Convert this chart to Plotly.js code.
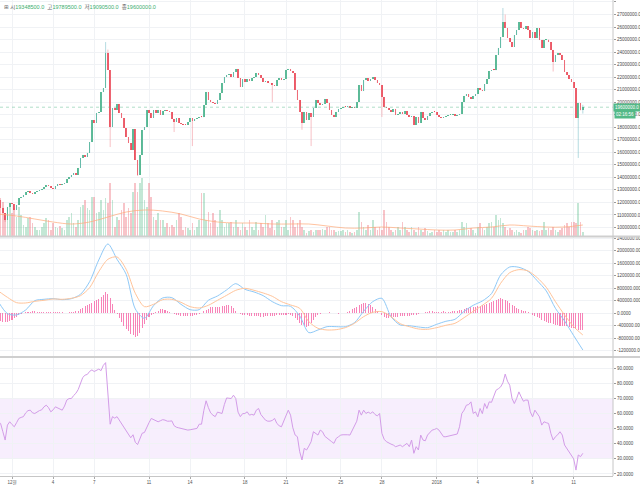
<!DOCTYPE html>
<html><head><meta charset="utf-8">
<script src="https://cdn.plot.ly/plotly-3.0.1.min.js"></script>
<style>html,body{margin:0;padding:0;background:#fff;}#chart{width:640px;height:485px;}</style>
</head><body><div id="chart"></div>
<script>
// BTC/KRW, 4-hour candles starting 2017-11-30 00:00. Prices in 만원 (10,000 KRW).
const startTime = Date.UTC(2017, 10, 30, 0);
const candleHours = 4;
const firstOpen = 1250;
const close = [
1219,1156,1116,1060,1164,1196,1188,1140,1180,1235,
1243,1259,1283,1291,1275,1267,1283,1291,1299,1307,
1323,1339,1331,1315,1307,1331,1347,1339,1347,1355,
1387,1403,1419,1435,1419,1475,1555,1579,1563,1595,
1682,1858,1834,1914,1922,2081,2113,2393,2257,1802,
1954,1938,1986,1914,1874,1794,1722,1674,1619,1786,
1539,1419,1579,1778,1802,1938,1914,1874,1938,1914,
1938,1898,1930,1938,1930,1922,1866,1842,1874,1834,
1826,1822,1818,1842,1874,1850,1866,1874,1882,1880,
1978,2081,2018,2002,1994,1986,2018,2073,2153,2201,
2217,2225,2201,2241,2265,2193,2121,2185,2161,2185,
2169,2193,2201,2233,2217,2193,2161,2169,2153,2150,
2137,2129,2177,2193,2177,2185,2257,2265,2249,2233,
2097,2018,1922,1834,1922,1858,1914,1882,1954,2018,
1994,1978,1986,2026,1994,1938,1898,1882,1922,1946,
1954,1962,1960,1970,1954,1962,1954,2002,2137,2089,
2177,2193,2169,2185,2201,2177,2153,2137,2042,1962,
1954,1938,1922,1946,1898,1906,1922,1906,1930,1898,
1882,1890,1818,1882,1834,1922,1874,1858,1890,1914,
1922,1920,1898,1882,1874,1882,1890,1898,1900,1906,
1890,1898,1906,2002,2050,2065,2042,2026,2050,2065,
2113,2097,2089,2145,2185,2249,2257,2255,2377,2433,
2520,2640,2592,2512,2480,2441,2536,2576,2640,2592,
2584,2608,2576,2512,2560,2512,2592,2496,2433,2496,
2500,2480,2417,2321,2377,2393,2377,2337,2241,2217,
2185,2161,2113,1874,1994,1934.85,1960];
// notable wick extremes (candle index -> price, 만원)
const highWick = {47:2480, 48:2420, 221:2752, 222:2700, 237:2530, 256:1978.95};
const lowWick = {3:1045, 49:1642, 61:1411, 77:1762, 85:1650, 120:2000, 133:1780, 137:1650, 168:1882, 243:2245, 254:1555, 256:1909.05};
// volume (arbitrary units)
const volume = [
40,38,34,23,29,33,23,28,19,29,21,
11,9,18,19,13,9,6,6,9,13,
18,16,6,13,9,8,10,8,6,16,
19,23,13,9,16,29,31,36,28,26,
39,39,23,24,36,26,38,33,53,36,
9,19,16,26,33,19,28,23,44,53,
44,53,58,36,29,53,39,19,16,23,
16,16,9,13,9,11,9,16,23,19,
6,9,8,6,13,6,9,16,43,43,
16,24,13,23,16,9,26,16,9,13,
13,14,9,16,9,6,13,9,6,16,
9,6,14,6,13,9,21,13,8,16,
6,14,16,9,9,16,6,19,16,9,
13,16,9,6,3,5,6,4,6,6,
6,7,6,9,9,6,6,4,5,5,
6,4,6,4,3,4,6,24,
14,9,6,11,6,16,9,6,9,6,26,14,9,6,
4,6,9,6,14,9,6,4,9,6,4,9,6,4,8,5,
3,4,6,4,6,4,6,4,6,4,4,6,4,6,14,
9,13,6,8,6,3,9,13,8,6,9,13,14,9,21,
16,18,13,9,6,8,6,4,6,4,3,6,6,9,8,
6,5,6,5,6,
14,6,8,6,9,6,4,6,8,11,13,9,14,14,13,33,14,4];
// volume moving average, read every 8 candles
const volumeMA = [22,20,17,14,12,14,19,24,26,25,22,17,14,13,13,12,12,12,10,8,8,9,8,7,6,6,8,9,11,10,9,9,11];
// MACD and signal (thousand KRW), read every 4 candles
const macdLine = [373,-11,-53,107,405,448,469,437,469,608,1013,1707,2219,1728,1248,139,-160,245,491,501,288,117,117,416,555,747,949,768,683,565,373,245,224,-85,-619,-533,-427,-427,-427,-299,64,373,480,-107,-373,-395,-437,-459,-352,-256,-192,64,256,395,629,1227,1483,1472,1344,1045,715,160,-245,-715,-1173];
const signalLine = [715,512,341,331,384,416,459,448,480,565,821,1333,1728,1803,1408,640,213,288,437,448,352,213,171,256,416,576,736,800,736,651,544,373,267,160,-267,-480,-533,-523,-459,-320,-107,32,53,-107,-331,-427,-501,-512,-459,-384,-320,-139,64,256,480,960,1301,1397,1355,1141,832,373,-53,-427,-693];
// MACD histogram per candle (thousand KRW)
const macdHist = [
-200,-260,-290,-290,-270,-240,-200,-160,-110,-60,
-20,10,
40,50,55,60,60,55,50,50,45,45,40,40,35,35,30,30,30,25,25,30,40,50,60,
90,130,170,220,260,300,340,
380,420,470,520,600,670,620,500,
300,120,-30,
-150,-280,-400,-500,-580,-650,-700,-750,-730,
-620,-480,-340,-220,-130,-60,-10,
40,90,130,140,120,90,50,
10,-20,-40,-60,-70,-80,-90,-90,-80,-70,-60,-40,-20,
20,60,100,150,190,210,200,190,200,220,240,260,250,220,160,80,
20,-20,-40,-50,
-60,-70,-80,-90,-100,-100,-110,-110,-100,-100,-90,-80,-70,-60,-60,-50,-40,
-40,-20,-40,-80,-150,-220,-300,
-380,-420,-430,-400,-320,-220,-130,-60,
-20,0,10,20,30,20,10,0,-10,0,10,20,
50,90,130,170,210,250,290,320,320,300,260,200,140,70,
0,-60,-110,-150,-160,-150,-130,-120,-110,-100,-100,-90,-80,-70,
-60,-50,-40,-20,0,20,40,50,60,60,
50,40,40,50,60,50,40,50,60,70,80,
100,120,140,160,180,190,200,210,220,230,250,270,300,330,360,400,440,470,480,470,440,
400,340,280,230,180,130,100,80,60,30,0,
-40,-80,-120,-160,-200,-240,-270,-300,-320,-340,-360,-380,-390,-400,-410,-420,-440,-460,-480,-500,-520,-530,-540];
// RSI per candle
const rsi = [
54.6,53.5,48,42.5,52.4,54.6,52.8,51.3,54,56.8,
57.5,58,60.5,62,62.3,60.5,60.1,61.3,62,62.5,
64.5,65.6,64,61.2,62.5,64.5,63.8,63.4,62.3,65,
69,70,70,72,73.5,76,80,84,85.5,86,
88,89,87.9,89,89.5,88.5,92,93.8,70,53,
58,57,58,55.7,53,51,48,46,44,46,
41,39.5,43.6,47,47.5,51.3,54,56.8,56,55.5,
54.6,55.3,56,55.7,55,55,55.2,52,51,50.6,
50.2,50,49.3,49.1,49.3,49.5,50,50.2,53,53,
62,68.5,64,60.5,59,58,61,60.5,60.1,66,
70.4,70.2,70,72.2,70,61,58,60,60.1,61.2,
59,59.5,59,62.3,63.4,59.4,57.5,55.7,55,55,
55.5,56.8,53.5,52,51.3,54.6,57.9,62.3,59,50.6,
45.8,44.7,34.8,29.3,37,35.9,38.5,41.4,48,47,
45.8,49.1,48,45,43.6,42.5,41.4,40.3,43.6,44.7,
45.8,46,46.2,46,45.8,49.1,52.4,55,62.3,59,
62.3,60.1,61,60.1,61.2,59.4,58.5,60.1,46.9,43,
41.4,40.3,39.8,39.2,38.1,38.6,39.2,38.1,39.2,40.3,
38.1,42.5,33.7,38.1,35.9,45.8,42.5,42,45.8,47.5,
49.1,49.5,50.2,49.1,47,44.7,44.7,45,45.8,46,
46.2,46.5,51.3,60.1,62.3,65.6,66,67.8,60.1,61.2,
57.9,63.4,60,66.7,63.4,67.8,67.5,71.1,75.5,76.5,
77.7,80.4,86.2,81.5,78.8,70,66.7,70,74.4,71.1,
68.2,69,68.9,61.2,57.9,62.3,60,57.9,52.4,54.6,
54,53.5,46.9,42.5,44.7,46,48,45.8,39.2,37,
35,32.6,30,22.6,32.6,31.5,33.7];
const tickDates = [[2017,11,1],[2017,11,4],[2017,11,7],[2017,11,11],[2017,11,14],[2017,11,18],[2017,11,21],[2017,11,25],[2017,11,28],[2018,0,1],[2018,0,4],[2018,0,8],[2018,0,11]];
const tickLabels = ['12월','4','7','11','14','18','21','25','28','2018','4','8','11'];
const priceTicks = [10,11,12,13,14,15,16,17,18,19,20,21,22,23,24,25,26,27,28];
const macdTicks = [-1200,-800,-400,0,400,800,1200,1600,2000,2400];
const macdTickText = ['-1200000.00','-800000.000','-400000.000','0.0000','400000.0000','800000.0000','1200000.000','1600000.000','2000000.000','2400000.000'];
const rsiTicks = [20,30,40,50,60,70,80,90];
const header = {open:19348500, high:19789500, low:19090500, close:19600000};

// ---- build ----
const HOUR = 3600*1000, DAY = 24*HOUR;
const t = i => startTime + i*candleHours*HOUR;
const WON = 1e4;
const n = close.length;
const open = close.map((c,i)=> i===0 ? firstOpen : close[i-1]);
const UP = '#53b987', DOWN = '#eb4d5c';
const xs = close.map((c,i)=>t(i));
const isUp = close.map((c,i)=> c >= open[i]);

const wickUp = {x:[],y:[]}, wickDn = {x:[],y:[]};
for (let i=0;i<n;i++){
  const hi = (highWick[i]!==undefined ? highWick[i] : Math.max(open[i],close[i]));
  const lo = (lowWick[i]!==undefined ? lowWick[i] : Math.min(open[i],close[i]));
  const w = isUp[i] ? wickUp : wickDn;
  w.x.push(xs[i], xs[i], null); w.y.push(lo*WON, hi*WON, null);
}
const bodyBase = close.map((c,i)=>Math.min(c,open[i])*WON);
const bodyLen = close.map((c,i)=>Math.max(Math.abs(c-open[i]),6)*WON);

const dec1 = Date.UTC(2017,11,1);
const xr = [dec1 - 0.8759*DAY, dec1 + 43.869*DAY];
const H = 476;
const fontTick = {family:'Liberation Sans, Arial, sans-serif', size:4.5, color:'#4a4a4a'};
const grid = '#f0f2f5';

const traces = [
  {type:'bar', x:xs, y:volume, yaxis:'y2', width:candleHours*HOUR*0.72,
   marker:{color:isUp.map(u=>u?'rgba(83,185,135,0.35)':'rgba(235,77,92,0.33)'), line:{width:0}}, hoverinfo:'skip'},
  {type:'scatter', mode:'lines', x:volumeMA.map((v,k)=>t(k*8)), y:volumeMA, yaxis:'y2',
   line:{color:'rgba(255,170,120,0.7)', width:1, shape:'spline'}, hoverinfo:'skip'},
  {type:'scatter', mode:'lines', x:wickUp.x, y:wickUp.y, line:{color:'rgba(120,190,200,0.55)', width:1}, connectgaps:false, hoverinfo:'skip'},
  {type:'scatter', mode:'lines', x:wickDn.x, y:wickDn.y, line:{color:'rgba(240,140,150,0.55)', width:1}, connectgaps:false, hoverinfo:'skip'},
  {type:'bar', x:xs, y:bodyLen, base:bodyBase, width:candleHours*HOUR*0.72,
   marker:{color:isUp.map(u=>u?UP:DOWN), line:{width:0}}, hoverinfo:'skip'},
  {type:'bar', x:xs, y:macdHist.map(v=>v*1000), yaxis:'y3', width:candleHours*HOUR*0.45,
   marker:{color:'rgba(245,90,160,0.75)', line:{width:0}}, hoverinfo:'skip'},
  {type:'scatter', mode:'lines', x:macdLine.map((v,k)=>t(k*4)), y:macdLine.map(v=>v*1000), yaxis:'y3',
   line:{color:'#8fc9f7', width:1, shape:'spline', smoothing:0.8}, hoverinfo:'skip'},
  {type:'scatter', mode:'lines', x:signalLine.map((v,k)=>t(k*4)), y:signalLine.map(v=>v*1000), yaxis:'y3',
   line:{color:'#ffc49a', width:1, shape:'spline', smoothing:0.8}, hoverinfo:'skip'},
  {type:'scatter', mode:'lines', x:xs, y:rsi, yaxis:'y4',
   line:{color:'#d39ce8', width:1}, hoverinfo:'skip'}
];

const yBase = {side:'right', anchor:'x', showgrid:true, gridcolor:grid, gridwidth:1, zeroline:false,
  ticks:'outside', ticklen:2, tickcolor:'#9a9a9a', tickfont:fontTick, showline:false, fixedrange:true};

const layout = {
  width:640, height:485,
  margin:{l:0, r:27, t:0, b:9, pad:0},
  paper_bgcolor:'#ffffff', plot_bgcolor:'#ffffff',
  showlegend:false, barmode:'overlay', bargap:0,
  font:{family:'Liberation Sans, Arial, sans-serif', size:5, color:'#4a4a4a'},
  xaxis:{type:'date', range:xr, anchor:'y4', tickmode:'array',
    tickvals:tickDates.map(d=>Date.UTC(d[0],d[1],d[2])), ticktext:tickLabels,
    tickfont:{family:'Liberation Sans, Noto Sans CJK KR, sans-serif', size:4.5, color:'#555'},
    ticks:'outside', ticklen:2, tickcolor:'#aaa', showgrid:true, gridcolor:grid, gridwidth:1,
    showline:true, linecolor:'#c6c6c6', linewidth:1, zeroline:false, fixedrange:true},
  yaxis:Object.assign({}, yBase, {domain:[1-236/H, 1], range:[9.322e6, 28.156e6], tickmode:'array',
    tickvals:priceTicks.map(v=>v*1e6), ticktext:priceTicks.map(v=>(v*1e6).toFixed(1))}),
  yaxis2:{overlaying:'y', anchor:'x', side:'right', range:[0,236], visible:false, fixedrange:true},
  yaxis3:Object.assign({}, yBase, {domain:[1-357/H, 1-237/H], range:[-1.398e6, 2.4416e6], tickmode:'array',
    tickvals:macdTicks.map(v=>v*1000), ticktext:macdTickText}),
  yaxis4:Object.assign({}, yBase, {domain:[0, 1-357/H], range:[18.67, 97.53], tickmode:'array',
    tickvals:rsiTicks, ticktext:rsiTicks.map(v=>v.toFixed(4))}),
  shapes:[
    {type:'rect', xref:'x', yref:'y4', x0:xr[0], x1:xr[1], y0:30, y1:70, fillcolor:'rgba(190,120,240,0.13)', line:{width:0}, layer:'below'},
    {type:'line', xref:'paper', yref:'y', x0:0, x1:1, y0:header.close, y1:header.close, line:{color:'rgba(83,185,135,0.45)', width:1, dash:'dot'}},
    {type:'line', xref:'paper', yref:'paper', x0:0, x1:640/613, y0:1-236.5/H, y1:1-236.5/H, line:{color:'#cfcfcf', width:2}},
    {type:'line', xref:'paper', yref:'paper', x0:0, x1:640/613, y0:1-357/H, y1:1-357/H, line:{color:'#cfcfcf', width:2}},
    {type:'line', xref:'paper', yref:'paper', x0:1, x1:1, y0:0, y1:1, line:{color:'#c6c6c6', width:1}}
  ],
  annotations:[
    {xref:'paper', yref:'paper', x:0.003, y:1, xanchor:'left', yanchor:'top', yshift:-1, showarrow:false, align:'left',
     font:{family:'Liberation Sans, Noto Sans CJK KR, DejaVu Sans, sans-serif', size:5.5, color:'#666'},
     text:'⊞ 시<span style="color:#3cae6e">'+header.open.toFixed(1)+'</span>  고<span style="color:#3cae6e">'+header.high.toFixed(1)+
          '</span>  저<span style="color:#3cae6e">'+header.low.toFixed(1)+'</span>  종<span style="color:#3cae6e">'+header.close.toFixed(1)+'</span>'},
    {xref:'paper', yref:'y', x:1, y:header.close, xanchor:'left', yanchor:'middle', showarrow:false,
     text:header.close.toFixed(1), bgcolor:UP, borderpad:1, font:{family:'Liberation Sans, Arial', size:4.5, color:'#fff'}},
    {xref:'paper', yref:'y', x:1, y:header.close, xanchor:'left', yanchor:'middle', yshift:-7, xshift:1, showarrow:false,
     text:'02:16:56', bgcolor:UP, borderpad:1, font:{family:'Liberation Sans, Arial', size:4.5, color:'#fff'}}
  ]
};

Plotly.newPlot('chart', traces, layout, {staticPlot:true, displayModeBar:false});
</script>
</body></html>
